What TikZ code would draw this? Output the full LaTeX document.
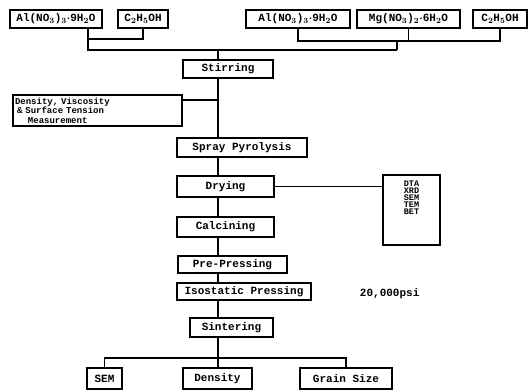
\documentclass[tikz,border=0pt]{standalone}
\usepackage{fontspec}
\setmonofont{Liberation Mono}
\usetikzlibrary{positioning}

\begin{document}
\begin{tikzpicture}[x=1pt,y=-1pt,line width=1.3pt,
    font=\ttfamily\bfseries\boldmath\fontsize{11}{12}\selectfont]
  \tikzstyle{proc}=[draw,line width=1.4pt,inner sep=2pt,minimum height=19pt]
  \useasboundingbox (0,0) rectangle (532,391);

  % starting materials
  \node[proc,minimum width=92pt,minimum height=18pt]  (alA)  at (56,19)    {Al(NO$_3$)$_3\cdot$9H$_2$O};
  \node[proc,minimum width=50pt,minimum height=18pt]  (eth1) at (143,19)   {C$_2$H$_5$OH};
  \node[proc,minimum width=104pt,minimum height=18pt] (alB)  at (298,19)   {Al(NO$_3$)$_3\cdot$9H$_2$O};
  \node[proc,minimum width=103pt,minimum height=18pt] (mg)   at (408.5,19) {Mg(NO$_3$)$_2\cdot$6H$_2$O};
  \node[proc,minimum width=54pt,minimum height=18pt]  (eth2) at (500,19)   {C$_2$H$_5$OH};

  % process chain
  \node[proc,minimum width=90pt,minimum height=18pt]  (stir)  at (228,69)    {Stirring};
  \node[proc,minimum width=130pt]                     (spray) at (242,147.5) {Spray Pyrolysis};
  \node[proc,minimum width=97pt,minimum height=21pt]  (dry)   at (225.5,186.5) {Drying};
  \node[proc,minimum width=97pt,minimum height=20pt]  (calc)  at (225.5,227) {Calcining};
  \node[proc,minimum width=109pt,minimum height=17pt] (prep)  at (232.5,264.5) {Pre-Pressing};
  \node[proc,minimum width=134pt,minimum height=17pt] (iso)   at (244,291.5) {Isostatic Pressing};
  \node[proc,minimum width=83pt]                      (sint)  at (231.5,327.5) {Sintering};

  % measurements
  \node[proc,text width=165pt,minimum height=31pt,align=left,
        font=\ttfamily\bfseries\fontsize{9}{9.5}\selectfont] (dvs) at (97.5,110.5)
        {Density, Viscosity\\\hspace{2pt}\& Surface Tension\\\hspace{13pt}Measurement};
  \node[proc,minimum width=57pt,minimum height=70pt] (chr) at (411.5,210) {};
  \node[below=3pt of chr.north,align=center,
        font=\ttfamily\bfseries\fontsize{8.5}{7}\selectfont] (chrtxt)
        {DTA\\XRD\\SEM\\TEM\\BET};
  \node[anchor=west] (psi) at (356,294) {20,000psi};
  \node[proc,minimum width=35pt,minimum height=21pt] (sem)   at (104.5,378.5) {SEM};
  \node[proc,minimum width=69pt,minimum height=21pt] (dens)  at (217.5,378.5) {Density};
  \node[proc,minimum width=92pt,minimum height=21pt] (grain) at (346,378.5)   {Grain Size};

  % junctions
  \coordinate (ax)   at (218,0);
  \coordinate (j1)   at (88,39);
  \coordinate (j2)   at (397,41);
  \coordinate (bus)  at (397,50);
  \coordinate (dvsj) at (218,100);
  \coordinate (bj)   at (218,358);

  % feed lines
  \draw (alA.south -| j1) -- (j1 |- bus) -- (bus);
  \draw (eth1.south) |- (j1);
  \draw (alB.south) |- (mg.south |- j2) -| (eth2.south);
  \draw (mg.south) -- (mg.south |- j2);
  \draw (j2) -- (bus);
  \draw (ax |- bus) -- (stir.north -| ax);

  % main axis
  \draw (stir.south -| ax)  -- (spray.north -| ax);
  \draw (spray.south -| ax) -- (dry.north -| ax);
  \draw (dry.south -| ax)   -- (calc.north -| ax);
  \draw (calc.south -| ax)  -- (prep.north -| ax);
  \draw (prep.south -| ax)  -- (iso.north -| ax);
  \draw (iso.south -| ax)   -- (sint.north -| ax);
  \draw (sint.south -| ax)  -- (bj);
  \draw (dvs.east |- dvsj)  -- (dvsj);
  \draw (dry.east) -- (dry.east -| chr.west);

  % characterisation
  \draw (sem.north) |- (bj) -| (grain.north);
  \draw (bj) -- (dens.north -| ax);
\end{tikzpicture}
\end{document}
